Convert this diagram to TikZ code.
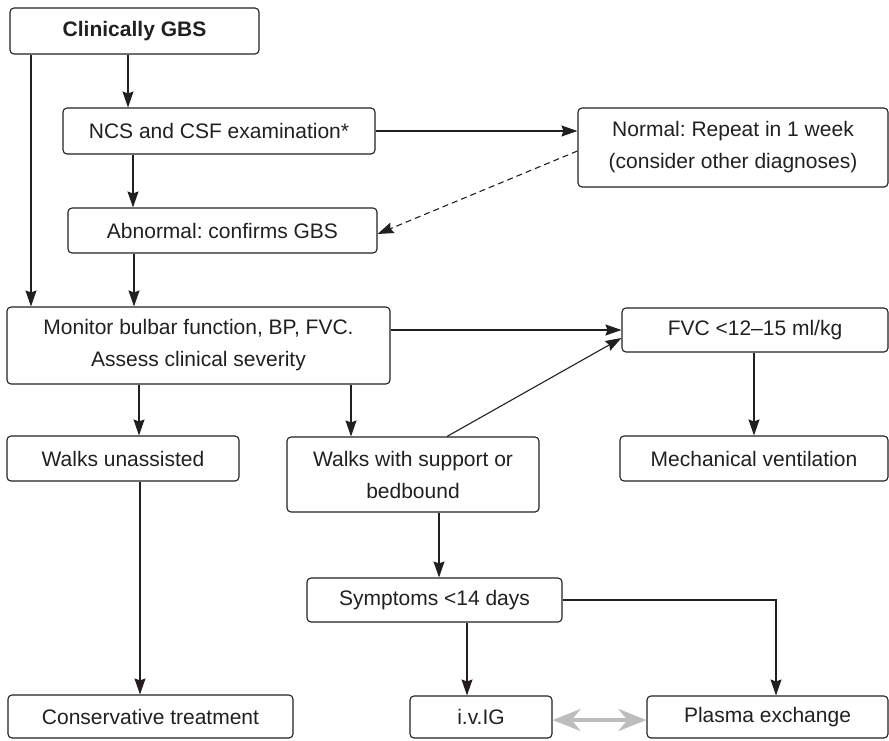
\documentclass[tikz,border=0pt]{standalone}
\usepackage{fontspec}
\setmainfont{Liberation Sans}
\usetikzlibrary{arrows.meta}
\definecolor{ink}{HTML}{231F20}
\definecolor{greyarrow}{HTML}{BDBDBD}
\frenchspacing
\begin{document}
\begin{tikzpicture}[x=1pt,y=-1pt,
  box/.style={draw=ink, line width=1.1pt, rounded corners=4pt, inner sep=0pt,
    align=center, font=\fontsize{21}{32}\selectfont, text=ink},
  arr/.style={draw=ink, line width=1.1pt, -{Stealth[length=16pt,width=11pt,inset=2pt]}},
  dasharr/.style={arr, dash pattern=on 6pt off 4pt},
  ln/.style={draw=ink, line width=1.1pt},
  greyarr/.style={draw=greyarrow, line width=4pt,
    {Stealth[length=28pt,width=22pt,inset=9pt]}-{Stealth[length=28pt,width=22pt,inset=9pt]}},
]
\useasboundingbox (0,0) rectangle (889,740);

\node[box, minimum width=249pt, minimum height=46pt] (A) at (134.5,31) {\bfseries Clinically GBS};
\node[box, minimum width=312pt, minimum height=46pt] (B) at (219,131) {NCS and CSF examination*};
\node[box, minimum width=310pt, minimum height=79pt] (C) at (733,147.5) {Normal: Repeat in 1 week\\(consider other diagnoses)};
\node[box, minimum width=309pt, minimum height=45pt] (D) at (222.5,230.5) {Abnormal: confirms GBS};
\node[box, minimum width=383pt, minimum height=77pt] (E) at (198.5,345.5) {Monitor bulbar function, BP, FVC.\\Assess clinical severity};
\node[box, minimum width=266pt, minimum height=44pt] (F) at (755,330) {FVC <12--15 ml/kg};
\node[box, minimum width=232pt, minimum height=45pt] (G) at (123,458.5) {Walks unassisted};
\node[box, minimum width=252pt, minimum height=75pt] (H) at (413,474.5) {Walks with support or\\bedbound};
\node[box, minimum width=268pt, minimum height=45pt] (I) at (754,458.5) {Mechanical ventilation};
\node[box, minimum width=255pt, minimum height=44pt] (J) at (434.5,600) {Symptoms <14 days};
\node[box, minimum width=285pt, minimum height=43pt] (K) at (150.5,716.5) {Conservative treatment};
\node[box, minimum width=142pt, minimum height=42pt] (L) at (481,717) {i.v.IG};
\node[box, minimum width=241pt, minimum height=42pt] (M) at (767.5,717) {Plasma exchange};

\draw[arr] (A.south -| 128,0) -- (B.north -| 128,0);
\draw[arr] (A.south -| 31,0) -- (E.north -| 31,0);
\draw[arr] (B.south -| 133,0) -- (D.north -| 133,0);
\draw[arr] (B.east) -- (B.east -| C.west);
\draw[dasharr] ([yshift=-3.5pt]C.west) -- ([yshift=-3.5pt]D.east);
\draw[arr] (D.south -| 134,0) -- (E.north -| 134,0);
\draw[arr] (E.east |- F.west) -- (F.west);
\draw[arr] ([xshift=34pt]H.north) -- ([yshift=-8pt]F.west);
\draw[arr] (E.south -| 139,0) -- (G.north -| 139,0);
\draw[arr] (E.south -| 351,0) -- (H.north -| 351,0);
\draw[arr] (F.south -| 754,0) -- (I.north -| 754,0);
\draw[arr] (G.south -| 140,0) -- (K.north -| 140,0);
\draw[arr] (H.south -| 439,0) -- (J.north -| 439,0);
\draw[arr] (J.south -| 467,0) -- (L.north -| 467,0);
\draw[arr] (J.east) -| ([xshift=8.5pt]M.north);
\draw[greyarr] ([yshift=-3pt]L.east) -- ([yshift=-3pt]M.west);
\end{tikzpicture}
\end{document}
